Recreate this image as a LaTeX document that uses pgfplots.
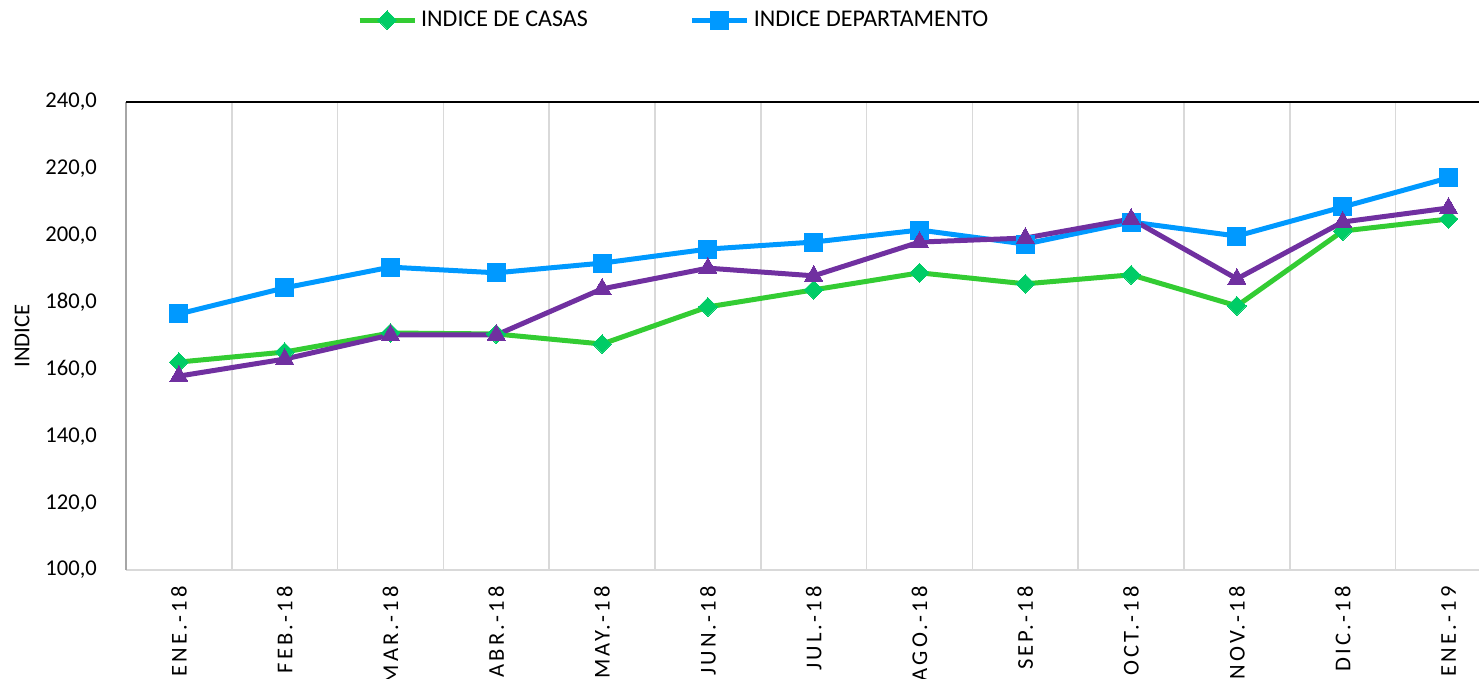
\documentclass[border=0pt]{standalone}
\usepackage{pgfplots}
\pgfplotsset{compat=1.18}
\usepackage{fontspec}
\setmainfont{Carlito}
\newfontfamily\spaced[LetterSpace=14]{Carlito}
\definecolor{cgreen}{HTML}{33CC33}
\definecolor{cgreenm}{HTML}{00CC66}
\definecolor{cblue}{HTML}{0099FF}
\definecolor{cpurple}{HTML}{7030A0}
\definecolor{cgrid}{HTML}{D9D9D9}
\definecolor{caxis}{HTML}{A6A6A6}
\begin{document}
\begin{tikzpicture}
\begin{axis}[
  scale only axis,
  width=687.7pt, height=234pt,
  xmin=-0.5, xmax=12.5,
  ymin=100, ymax=240,
  axis lines=left,
  axis line style={-},
  x axis line style={draw=cgrid, line width=0.9pt},
  y axis line style={draw=caxis, line width=0.9pt},
  xtick={0,...,12},
  xticklabels={ENE.-18,FEB.-18,MAR.-18,ABR.-18,MAY.-18,JUN.-18,JUL.-18,AGO.-18,SEP.-18,OCT.-18,NOV.-18,DIC.-18,ENE.-19},
  xticklabel style={rotate=90, anchor=east, font=\fontsize{11.3}{13}\spaced, inner sep=0pt, xshift=0pt},
  minor xtick={0.5,1.5,...,11.5},
  xminorgrids,
  minor grid style={cgrid, line width=0.75pt},
  ytick={100,120,...,240},
  yticklabel style={font=\fontsize{11.3}{13}\selectfont},
  /pgf/number format/assume math mode=true,
  /pgf/number format/.cd, fixed, fixed zerofill, precision=1, use comma, 1000 sep={},
  /pgfplots/.cd,
  major tick length=0pt, minor tick length=0pt,
  xticklabel shift=8pt,
  yticklabel shift=11pt,
  extra y ticks={240},
  extra y tick labels={},
  extra y tick style={grid=major, major grid style={black, line width=0.9pt}},
  ylabel={INDICE},
  every axis y label/.style={at={(rel axis cs:0,0.5)}, xshift=-52pt, rotate=90, anchor=center, font=\fontsize{11.3}{13}\selectfont},
  legend style={draw=none, fill=none, at={(0.1678,1.175)}, anchor=west, inner sep=0pt,
    font=\fontsize{12}{14}\selectfont, legend columns=2,
    /tikz/every even column/.append style={column sep=49pt}},
  legend image code/.code={
    \draw[#1, mark=none] (0pt,0pt) -- (27.5pt,0pt);
    \draw[#1, only marks] plot coordinates {(13.75pt,0pt)};
  },
]
\addplot[cgreen, line width=2.5pt, mark=square*, mark size=3.3pt, mark options={rotate=45, fill=cgreenm, draw=cgreenm, line width=0pt}]
coordinates {(0,162.2)(1,165.2)(2,170.9)(3,170.6)(4,167.6)(5,178.7)(6,183.8)(7,188.9)(8,185.6)(9,188.3)(10,179.0)(11,201.4)(12,205.0)};
\addplot[cblue, line width=2.5pt, mark=square*, mark size=4.5pt, mark options={line width=0pt}]
coordinates {(0,176.6)(1,184.4)(2,190.6)(3,188.9)(4,191.8)(5,196.0)(6,198.1)(7,201.7)(8,197.5)(9,204.1)(10,199.9)(11,208.6)(12,217.3)};
\addplot[cpurple, line width=2.5pt, mark=triangle*, mark size=5.2pt, mark options={line width=0pt}]
coordinates {(0,158.0)(1,163.1)(2,170.3)(3,170.3)(4,184.1)(5,190.3)(6,188.0)(7,198.1)(8,199.3)(9,205.0)(10,187.1)(11,204.1)(12,208.3)};
\legend{INDICE DE CASAS, INDICE DEPARTAMENTO}
\coordinate (SW) at (rel axis cs:0,0);
\end{axis}
\pgfresetboundingbox
\path[use as bounding box] ([shift={(-63pt,-54.5pt)}]SW) rectangle ([shift={(676.5pt,285pt)}]SW);
\end{tikzpicture}
\end{document}
